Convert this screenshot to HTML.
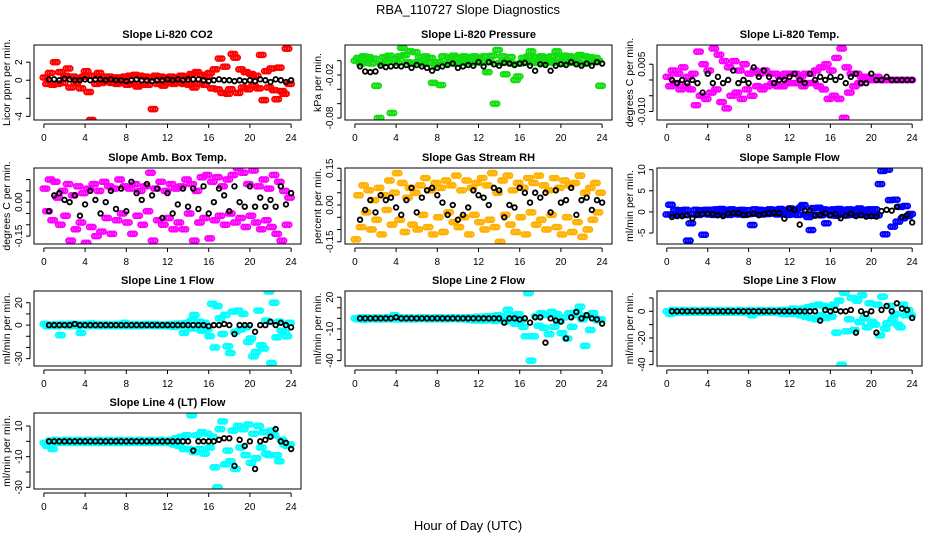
<!DOCTYPE html>
<html><head><meta charset="utf-8"><title>RBA_110727 Slope Diagnostics</title>
<style>
html,body{margin:0;padding:0;background:#fff;}
svg{display:block;font-family:"Liberation Sans",Arial,sans-serif;}
</style></head>
<body>
<svg id="chart" width="936" height="540" viewBox="0 0 936 540" xmlns="http://www.w3.org/2000/svg">
<text x="468" y="14" text-anchor="middle" font-size="13">RBA_110727  Slope Diagnostics</text>
<text x="468" y="530" text-anchor="middle" font-size="13">Hour of Day (UTC)</text>
</svg>
<script>
const hoursColor = [0.1,0.35,0.6,0.85,1.1,1.35,1.6,1.85,2.1,2.35,2.6,2.85,3.1,3.35,3.6,3.85,4.1,4.35,4.6,4.85,5.1,5.35,5.6,5.85,6.1,6.35,6.6,6.85,7.1,7.35,7.6,7.85,8.1,8.35,8.6,8.85,9.1,9.35,9.6,9.85,10.1,10.35,10.6,10.85,11.1,11.35,11.6,11.85,12.1,12.35,12.6,12.85,13.1,13.35,13.6,13.85,14.1,14.35,14.6,14.85,15.1,15.35,15.6,15.85,16.1,16.35,16.6,16.85,17.1,17.35,17.6,17.85,18.1,18.35,18.6,18.85,19.1,19.35,19.6,19.85,20.1,20.35,20.6,20.85,21.1,21.35,21.6,21.85,22.1,22.35,22.6,22.85,23.1,23.35,23.6,23.85];
const hoursBlack = [0.5,1,1.5,2,2.5,3,3.5,4,4.5,5,5.5,6,6.5,7,7.5,8,8.5,9,9.5,10,10.5,11,11.5,12,12.5,13,13.5,14,14.5,15,15.5,16,16.5,17,17.5,18,18.5,19,19.5,20,20.5,21,21.5,22,22.5,23,23.5,24];
const xTicks = [0,4,8,12,16,20,24];

const co2Color = [0.3,-0.4,0.8,-0.5,2.0,-0.4,0.9,-0.3,0.5,1.3,-0.8,0.4,-0.3,0.2,-0.9,0.4,1.0,-1.3,-4.4,0.5,-0.4,0.8,-0.3,0.4,-0.2,0.4,-0.3,0.3,-0.4,0.3,-0.2,0.4,
-0.5,0.5,-0.4,0.6,-0.7,0.5,-0.5,0.4,-0.5,0.3,-3.2,0.5,-0.4,0.4,-0.6,0.3,-0.3,0.4,-0.4,0.3,-0.3,0.5,-0.4,0.4,-0.5,0.7,-0.8,0.9,-0.4,0.6,-0.5,0.4,
0.8,-0.9,1.2,-1.0,2.4,-1.4,1.5,-1.5,-1.0,2.9,2.5,-1.4,1.2,-0.8,0.9,-1.0,0.7,-0.6,0.5,-0.9,2.8,-2.2,1.0,-0.8,1.3,-1.1,-2.1,1.4,-1.2,-1.5,3.5,-0.4];
const co2Black = [0.1,0.1,0.0,0.2,0.1,0.0,0.0,0.1,0.0,0.1,0.1,0.0,0.1,0.0,0.0,-0.1,0.0,0.1,0.0,0.0,-0.1,0.0,0.0,0.1,0.0,0.1,0.0,0.1,0.1,0.1,0.0,-0.1,0.0,0.1,0.0,0.0,-0.1,0.0,-0.1,0.0,-0.1,0.1,0.0,-0.2,0.1,0.0,-0.2,0.0];

const presColor = [0.000,0.004,-0.004,0.006,-0.003,0.005,-0.004,0.003,-0.035,-0.080,-0.004,0.005,-0.002,0.007,-0.073,0.002,-0.003,0.006,0.018,0.008,-0.002,0.013,-0.003,0.012,
-0.002,0.005,-0.004,0.006,-0.003,0.004,-0.031,-0.006,-0.002,-0.034,0.006,-0.004,0.005,-0.002,0.007,-0.004,0.004,-0.003,0.006,-0.002,0.005,-0.003,0.006,-0.002,
0.005,-0.003,0.006,-0.016,-0.002,0.007,-0.060,0.015,-0.003,0.006,-0.019,-0.002,0.005,-0.004,-0.027,-0.022,-0.004,0.004,-0.002,0.006,0.013,-0.003,0.005,-0.002,
0.006,-0.003,0.005,-0.002,0.006,-0.003,0.013,0.004,-0.004,0.007,-0.002,0.006,-0.003,0.005,-0.002,0.008,-0.004,0.006,-0.003,0.005,-0.002,0.004,0.000,-0.035];
const presBlack = [-0.008,-0.015,-0.016,-0.015,-0.007,-0.009,-0.008,-0.007,-0.008,-0.006,-0.010,-0.006,-0.008,-0.010,-0.014,-0.010,-0.008,-0.006,-0.004,-0.010,-0.008,-0.006,-0.007,-0.002,-0.008,-0.002,-0.005,-0.007,-0.003,-0.004,-0.006,-0.004,-0.003,-0.007,-0.014,-0.005,-0.006,-0.014,-0.007,-0.005,-0.006,-0.002,-0.005,-0.007,-0.004,-0.007,-0.002,-0.004];

const tempColor = [0.001,-0.002,0.003,-0.001,0.002,-0.003,0.004,-0.002,0.001,-0.003,0.002,-0.008,0.009,-0.005,0.005,-0.006,0.003,-0.004,0.010,-0.003,0.008,-0.007,0.006,-0.009,
0.004,-0.005,0.006,-0.004,0.003,-0.006,0.005,-0.003,0.002,-0.005,0.003,-0.002,0.002,-0.003,0.003,-0.002,0.002,-0.001,0.002,-0.002,0.001,-0.002,0.002,-0.001,
0.002,-0.001,0.002,-0.001,0.001,-0.002,0.002,-0.001,0.002,-0.001,0.003,-0.002,0.004,-0.003,0.005,-0.006,0.003,-0.005,0.007,-0.006,0.010,-0.012,0.004,-0.004,
0.002,-0.002,0.002,-0.001,0.001,0.000,0.001,0.000,0.000,0.000,0.001,0.000,0.000,0.000,0.000,0.000,0.000,0.000,0.000,0.000,0.000,0.000,0.000,0.000];
const tempBlack = [0.000,-0.001,0.000,-0.001,0.000,-0.001,-0.004,0.002,-0.001,0.001,-0.001,0.000,0.003,-0.001,0.000,-0.001,0.004,0.001,0.003,0.001,-0.001,0.000,0.000,0.001,0.002,0.000,-0.001,0.002,0.000,0.001,0.000,0.001,0.000,0.001,-0.001,0.001,0.002,-0.001,-0.001,0.002,0.000,0.000,0.001,0.000,0.000,0.000,0.000,0.000];

const ambColor = [0.06,-0.04,0.10,-0.08,0.09,0.02,-0.10,0.05,-0.06,0.08,-0.17,0.03,-0.12,0.07,-0.09,0.04,-0.18,0.06,-0.11,0.08,-0.15,0.05,-0.13,0.09,
-0.07,0.07,-0.14,0.06,-0.08,0.10,-0.05,0.07,-0.09,0.06,-0.14,0.08,-0.06,0.05,-0.10,0.07,-0.04,0.13,-0.17,0.06,-0.08,0.09,-0.10,0.05,
-0.07,0.08,-0.12,0.06,-0.09,0.07,-0.12,0.10,-0.05,0.08,-0.17,0.05,-0.09,0.11,-0.07,0.12,-0.16,0.09,-0.08,0.11,-0.06,0.07,-0.10,0.10,
-0.05,0.12,-0.09,0.15,-0.07,0.13,-0.11,0.08,-0.06,0.14,-0.09,0.07,-0.12,0.10,-0.08,0.06,-0.11,0.12,-0.14,0.09,-0.17,0.05,-0.10,0.02];
const ambBlack = [-0.04,0.03,0.04,0.01,0.00,0.03,-0.06,-0.01,0.05,0.01,-0.05,0.00,0.05,-0.03,0.06,-0.04,0.09,0.04,0.01,0.08,0.03,0.06,-0.07,0.04,-0.05,-0.01,0.06,-0.02,0.06,-0.03,0.07,-0.05,0.00,0.06,0.03,-0.04,0.07,0.00,-0.02,0.07,-0.02,0.02,-0.02,0.01,-0.02,0.07,-0.01,0.04];

const rhColor = [-0.14,0.04,-0.09,0.08,-0.03,0.06,-0.10,0.02,-0.06,0.07,-0.12,0.04,-0.02,0.10,-0.08,0.05,0.13,-0.06,0.09,-0.11,0.03,0.07,-0.08,0.05,
-0.10,0.08,-0.04,0.11,-0.09,0.06,-0.12,0.09,-0.05,0.07,-0.11,0.10,-0.03,0.08,-0.07,0.12,-0.09,0.06,-0.05,0.10,-0.12,0.07,-0.04,0.09,
-0.07,0.11,-0.10,0.08,-0.06,0.13,-0.09,0.05,-0.15,0.10,-0.04,0.12,-0.08,0.06,-0.11,0.09,-0.05,0.07,-0.12,0.11,-0.03,0.09,-0.08,0.12,
-0.06,0.08,-0.10,0.06,-0.04,0.11,-0.09,0.07,-0.12,0.10,-0.05,0.08,-0.11,0.09,-0.07,0.12,-0.13,0.05,-0.10,0.07,-0.06,0.09,-0.03,0.05];
const rhBlack = [-0.06,-0.02,0.02,-0.03,0.04,0.02,0.03,-0.01,-0.04,0.02,0.07,-0.03,0.03,0.06,0.07,0.04,0.01,-0.04,0.00,-0.06,-0.04,-0.01,0.06,0.04,0.03,0.00,0.07,0.06,-0.05,0.00,-0.01,0.07,0.05,0.01,0.05,0.03,0.05,-0.03,0.06,0.01,0.02,0.07,-0.04,0.02,0.03,-0.02,0.02,0.01];

const flowColor = [-0.6,1.7,-0.7,0.5,-0.8,0.4,-0.7,0.5,-6.8,-2.7,-0.6,0.5,-0.7,0.4,-5.4,0.5,-0.6,0.5,-0.7,0.6,-0.5,0.7,-0.6,0.5,
-0.7,0.6,-0.5,0.4,-0.6,0.5,-0.7,0.4,-0.5,-3.1,0.6,-0.4,0.5,-0.6,0.4,-0.5,0.6,-0.4,0.5,-0.6,0.7,-0.5,0.4,-0.7,
0.8,-0.6,0.5,-0.7,1.0,1.6,-0.6,-1.2,-4.3,0.9,-0.7,1.0,-0.8,0.6,-2.7,0.5,-0.8,0.6,-0.9,0.7,-0.6,0.5,-0.8,0.6,
-0.7,0.5,-0.6,0.8,-0.7,0.5,-0.8,0.6,-0.9,0.6,-0.8,6.6,9.7,-5.3,10.0,2.8,-3.5,2.9,-2.3,1.2,-1.5,1.4,-1.0,-0.5];
const flowBlack = [-1.2,-1.0,-1.0,-0.8,-1.5,-0.6,-0.5,-0.4,-0.5,-0.8,-1.0,-0.4,-0.3,-0.3,-0.7,-0.6,-0.4,-0.8,-0.5,-0.3,-0.2,-0.3,-1.6,0.8,0.5,-3.0,0.3,0.4,-0.9,-0.7,-0.3,-0.8,-0.5,-1.5,-0.9,-0.4,-1.0,-0.8,-1.1,-1.0,-1.1,0.2,0.5,0.3,1.2,-1.2,-0.8,-2.5];

const line1Color = [1,-1,0.5,-1,0.8,-1,-9,1,0.5,-1,1.2,-0.8,1,-1,-7,1,0.8,-1,1.5,-0.5,1,-1,0.8,-1,
1,-1,0.5,-0.8,1,-1,0.8,2,-1,0.5,-1,1,-0.8,0.5,-1,1,-0.5,1,-0.8,1,-1,0.5,-1,0.8,
-1,1,-1.5,1.2,-1,1.5,-7,2,-3,4,9,-3,3,-5,2,-4,-10,19,-20,17,6,-8,9,-19,
-25,12,-6,13,-4,10,-2,-15,-12,-28,-24,13,-18,-21,4,30,-34,20,-11,3,-5,-6,-10,2];
const line1Black = [0,0,0,0,0,1,0,0,0,0,0,0,0,0,0,0,0,0,0,0,0,0,0,0,0,0,0,0,0,0,0,-1,0,0,1,0,-8,0,0,0,-6,0,0,3,0,2,0,-2];

const line2Color = [0,-1,1,-1.5,1,-1,0.5,-1,1,-1,0.5,-1,1,-1,0.5,3,-1,1,-1,0.8,-1,1,-1,0.5,
-1,1,-0.5,1,-1,0.5,-1,1,-0.8,1,-1,0.5,-1,1,-0.5,1,-1,0.8,-1,1,-1.5,1,-2,1.5,
-2,1.5,-2,2,-1.5,2,-2.5,3,-1.5,2,-3,8,-2,3,-5,4,-2,-8,-17,24,-40,-17,2,-7,
5,-9,3,-15,6,-8,4,-3,-14,1,-19,5,-8,3,6,11,-1,-26,3,-11,5,0,-2,-1];
const line2Black = [0,0,0,0,0,0,0,1,0,0,0,0,0,0,0,0,0,0,0,0,0,0,0,0,0,0,0,0,-4,0,0,-1,0,-4,1,1,-23,0,-2,-3,-19,1,6,0,3,0,-1,-5];

const line3Color = [0,-2,1,-1,0.5,-1,1,-1,0.5,-1,1,-1,0.5,-1,1,-1,1,-1,0.5,-1,1,-1,0.5,-1,
1,-1,0.5,-1,1,-1,0.5,-1,1,-3,0.5,-1,1,-1,0.5,-1,1,-1,0.5,-1,1,-2,1,-2,
-1,2,-2,1.5,-3,2,-4,3,-5,4,-6,5,-3,4,-5,3,-4,5,-16,8,-40,14,-15,-6,
10,-14,8,-8,12,-5,-12,6,-8,-10,5,-18,11,-13,-9,4,-6,-2,-10,-12,5,-3,1,-3];
const line3Black = [0,0,0,0,0,0,0,0,0,0,0,0,0,0,0,0,0,0,0,0,0,0,0,0,0,0,0,0,0,-7,1,0,1,0,0,1,-16,0,-2,0,-16,1,4,0,6,2,1,-5];

const line4Color = [-1,-3,0.5,-5,1,-1,0.5,-1,1,1,-1,0.5,-1,1,-1,0.5,-1,1,-1,0.5,-1,1,-1,0.5,
-1,1,-1,0.5,-1,1,-1,0.5,-1,1,-1,0.5,-1,1,-1,0.5,-1,1,-1,0.5,-1,1,-1,0.5,
-1,1,-2,2,-3,3,-5,4,-5,17,-7,4,-5,6,-8,5,-4,3,-17,-30,8,13,-15,-6,
-13,7,-18,10,-4,8,-9,11,-14,5,-11,10,-4,6,-8,-9,7,4,-9,-13,1,-2,-3,-2];
const line4Black = [0,0,0,0,0,0,0,0,0,0,0,0,0,0,0,0,0,0,0,0,0,0,0,0,0,0,0,0,-6,0,0,0,0,1,2,2,-16,1,-3,0,-18,0,1,3,8,0,-1,-5];

const co2Ticks=[-4,-2,0,2], co2Labels=['-4','','0','2'];
const presTicks=[-0.08,-0.06,-0.04,-0.02,0], presLabels=['-0.08','','','-0.02',''];
const tempTicks=[-0.010,-0.005,0,0.005], tempLabels=['-0.010','','','0.005'];
const ambTicks=[-0.15,-0.10,-0.05,0,0.05,0.10], ambLabels=['-0.15','','','0.00','',''];
const rhTicks=[-0.15,-0.10,-0.05,0,0.05,0.10,0.15], rhLabels=['-0.15','','','0.00','','','0.15'];
const flowTicks=[-5,0,5,10], flowLabels=['-5','0','5','10'];
const line1Ticks=[-30,-20,-10,0,10,20], line1Labels=['-30','','','0','','20'];
const line2Ticks=[-40,-30,-20,-10,0,10,20], line2Labels=['-40','','','-10','','','20'];
const line3Ticks=[-40,-30,-20,-10,0,10], line3Labels=['-40','','-20','','0',''];
const line4Ticks=[-30,-20,-10,0,10], line4Labels=['-30','','-10','','10'];

const NS='http://www.w3.org/2000/svg';
const svg=document.getElementById('chart');
function mk(tag,attrs,parent){const e=document.createElementNS(NS,tag);for(const k in attrs)e.setAttribute(k,attrs[k]);(parent||svg).appendChild(e);return e;}

const panels=[
 {id:'co2',title:'Slope Li-820 CO2',ylab:'Licor ppm per min.',box:[34,45,301,120],dom:[-4.4,3.9],ticks:co2Ticks,labels:co2Labels,color:'#ff0000',cv:co2Color,bv:co2Black},
 {id:'pressure',title:'Slope Li-820 Pressure',ylab:'kPa per min.',box:[345,45,612,120],dom:[-0.0828,0.0219],ticks:presTicks,labels:presLabels,color:'#11dd11',cv:presColor,bv:presBlack},
 {id:'temp',title:'Slope Li-820 Temp.',ylab:'degrees C per min.',box:[657,45,922,120],dom:[-0.0127,0.0111],ticks:tempTicks,labels:tempLabels,color:'#ff00ff',cv:tempColor,bv:tempBlack},
 {id:'amb-box-temp',title:'Slope Amb. Box Temp.',ylab:'degrees C per min.',box:[34,168,301,244],dom:[-0.185,0.151],ticks:ambTicks,labels:ambLabels,color:'#ff00ff',cv:ambColor,bv:ambBlack},
 {id:'gas-rh',title:'Slope Gas Stream RH',ylab:'percent per min.',box:[345,168,612,244],dom:[-0.159,0.151],ticks:rhTicks,labels:rhLabels,color:'#ffb000',cv:rhColor,bv:rhBlack},
 {id:'sample-flow',title:'Slope Sample Flow',ylab:'ml/min per min.',box:[657,168,922,244],dom:[-7.6,10.4],ticks:flowTicks,labels:flowLabels,color:'#0000ff',cv:flowColor,bv:flowBlack},
 {id:'line1-flow',title:'Slope Line 1 Flow',ylab:'ml/min per min.',box:[34,291,301,366],dom:[-36.6,30.5],ticks:line1Ticks,labels:line1Labels,color:'#00ffff',cv:line1Color,bv:line1Black},
 {id:'line2-flow',title:'Slope Line 2 Flow',ylab:'ml/min per min.',box:[345,291,612,366],dom:[-45.1,25.9],ticks:line2Ticks,labels:line2Labels,color:'#00ffff',cv:line2Color,bv:line2Black},
 {id:'line3-flow',title:'Slope Line 3 Flow',ylab:'ml/min per min.',box:[657,291,922,366],dom:[-41,15.2],ticks:line3Ticks,labels:line3Labels,color:'#00ffff',cv:line3Color,bv:line3Black},
 {id:'line4-flow',title:'Slope Line 4 (LT) Flow',ylab:'ml/min per min.',box:[34,413,301,489],dom:[-31.1,18.5],ticks:line4Ticks,labels:line4Labels,color:'#00ffff',cv:line4Color,bv:line4Black}
];

// marker glyph: a small horizontal cluster of open circles (dense-band look)
const clusterDx = [-2.2, 0, 2.2];

panels.forEach(p=>{
 const [x0,y0,x1,y1]=p.box;
 const g=mk('g',{});
 
 
 const xs=h=>x0+(h+0.96)/25.92*(x1-x0);
 const ys=v=>y1-(v-p.dom[0])/(p.dom[1]-p.dom[0])*(y1-y0);
 const t=mk('text',{x:(x0+x1)/2,y:y0-7,'text-anchor':'middle','font-size':'11','font-weight':'bold'},g);
 t.textContent=p.title;
 
 
 const cx=x0-24, cyc=(y0+y1)/2;
 const yl=mk('text',{x:cx,y:cyc,'text-anchor':'middle','font-size':'10.5',transform:'rotate(-90 '+cx+' '+cyc+')'},g);
 yl.textContent=p.ylab;
 
 
 const clip=mk('clipPath',{id:'clip-'+p.id},g);
 mk('rect',{x:x0,y:y0,width:x1-x0,height:y1-y0},clip);
 const cg=mk('g',{'clip-path':'url(#clip-'+p.id+')'},g);
 
 
 p.cv.forEach((v,i)=>{
   const px=xs(hoursColor[i]), py=ys(v);
   const m=mk('g',{},cg);
   
   
   clusterDx.forEach(dx=>{
     mk('circle',{cx:px+dx,cy:py,r:2.4,fill:'none',stroke:p.color,'stroke-width':1.9},m);
   });
 });
 const bg=mk('g',{'clip-path':'url(#clip-'+p.id+')'},g);
 
 
 p.bv.forEach((v,i)=>{
   const c=mk('circle',{cx:xs(hoursBlack[i]),cy:ys(v),r:2.3,fill:'none',stroke:'#000','stroke-width':1.8},bg);
   
   
 });
 const box=mk('rect',{x:x0,y:y0,width:x1-x0,height:y1-y0,fill:'none',stroke:'#000','stroke-width':1},g);
 
 
 const xa=mk('g',{},g);
 
 
 mk('line',{x1:xs(0),x2:xs(24),y1:y1+4,y2:y1+4,stroke:'#000'},xa);
 xTicks.forEach(v=>{
   mk('line',{x1:xs(v),x2:xs(v),y1:y1+4,y2:y1+8,stroke:'#000'},xa);
   const tl=mk('text',{x:xs(v),y:y1+21,'text-anchor':'middle','font-size':'10'},xa);
   tl.textContent=String(v);
   
   
 });
 const ya=mk('g',{},g);
 
 
 mk('line',{x1:x0-4,x2:x0-4,y1:ys(p.ticks[0]),y2:ys(p.ticks[p.ticks.length-1]),stroke:'#000'},ya);
 p.ticks.forEach((v,i)=>{
   const yy=ys(v);
   mk('line',{x1:x0-8,x2:x0-4,y1:yy,y2:yy,stroke:'#000'},ya);
   if(p.labels[i]){
     const lx=x0-12;
     const tl=mk('text',{x:lx,y:yy,'text-anchor':'middle','font-size':'10',transform:'rotate(-90 '+lx+' '+yy+')'},ya);
     tl.textContent=p.labels[i];
     
     
   }
 });
});
</script>
</body></html>
